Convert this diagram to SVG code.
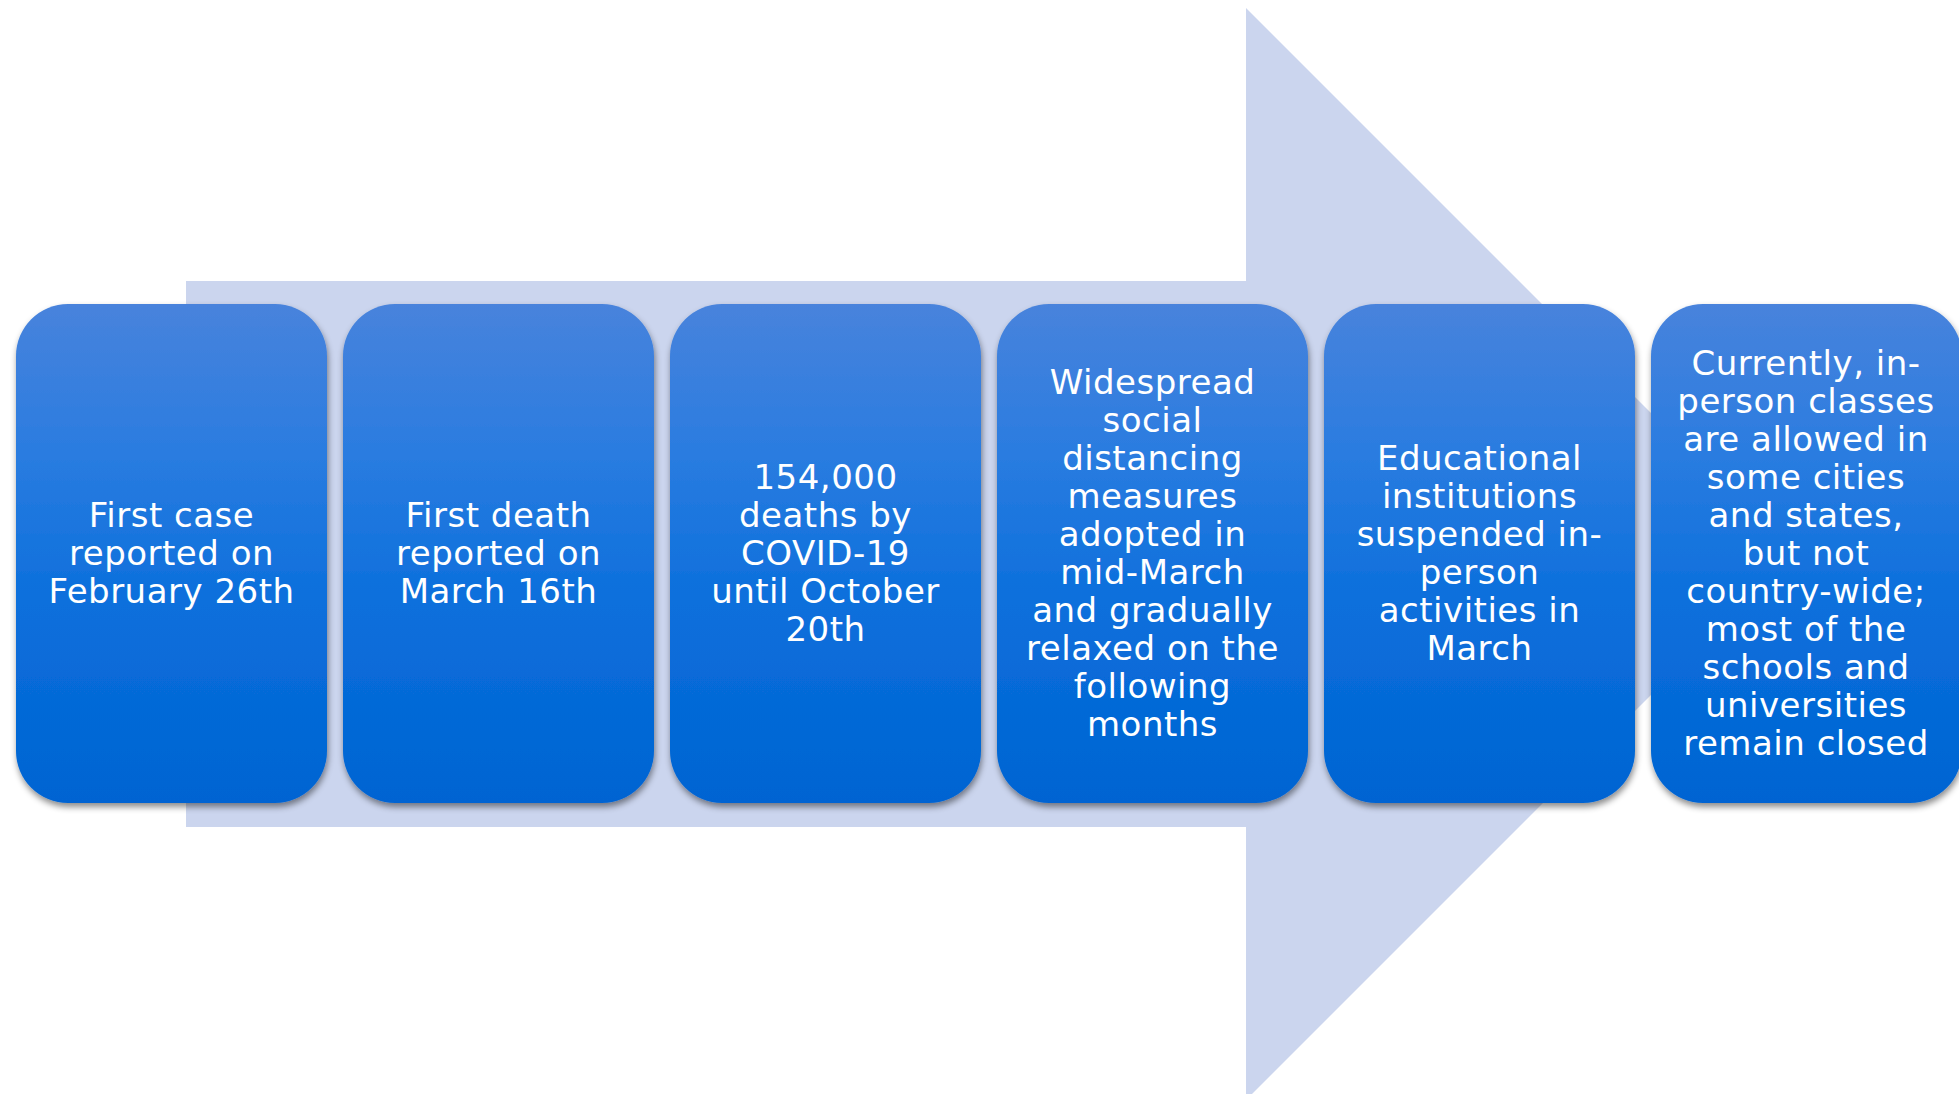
<svg xmlns="http://www.w3.org/2000/svg" width="1959" height="1094" viewBox="0 0 1959 1094">
<defs>
<linearGradient id="g" x1="0" y1="0" x2="0" y2="1">
<stop offset="0" stop-color="#4883DC"/>
<stop offset="0.3" stop-color="#2A7CE0"/>
<stop offset="0.6" stop-color="#0B6FDC"/>
<stop offset="1" stop-color="#0064D2"/>
</linearGradient>
<filter id="sh" x="-10%" y="-10%" width="120%" height="120%">
<feDropShadow dx="1" dy="4" stdDeviation="3" flood-color="#000" flood-opacity="0.45"/>
</filter>
<style>
.box{fill:url(#g);filter:url(#sh)}
.t{font-family:"DejaVu Sans",Verdana,sans-serif;font-size:34px;fill:#fff;text-anchor:middle;letter-spacing:0.5px}
</style>
</defs>
<g id="arrow">
<polygon points="186,281 1246,281 1246,8 1792,554 1246,1100 1246,827 186,827" fill="#CBD5EE"/>
</g>
<g id="connectors"/>
<g id="n1">
<rect class="box" x="16" y="304" width="311" height="499" rx="52"/>
<text class="t"><tspan x="171.5" y="527">First case</tspan><tspan x="171.5" y="565">reported on</tspan><tspan x="171.5" y="603">February 26th</tspan></text>
</g>
<g id="n2">
<rect class="box" x="343" y="304" width="311" height="499" rx="52"/>
<text class="t"><tspan x="498.5" y="527">First death</tspan><tspan x="498.5" y="565">reported on</tspan><tspan x="498.5" y="603">March 16th</tspan></text>
</g>
<g id="n3">
<rect class="box" x="670" y="304" width="311" height="499" rx="52"/>
<text class="t"><tspan x="825.5" y="489">154,000</tspan><tspan x="825.5" y="527">deaths by</tspan><tspan x="825.5" y="565">COVID-19</tspan><tspan x="825.5" y="603">until October</tspan><tspan x="825.5" y="641">20th</tspan></text>
</g>
<g id="n4">
<rect class="box" x="997" y="304" width="311" height="499" rx="52"/>
<text class="t"><tspan x="1152.5" y="394">Widespread</tspan><tspan x="1152.5" y="432">social</tspan><tspan x="1152.5" y="470">distancing</tspan><tspan x="1152.5" y="508">measures</tspan><tspan x="1152.5" y="546">adopted in</tspan><tspan x="1152.5" y="584">mid-March</tspan><tspan x="1152.5" y="622">and gradually</tspan><tspan x="1152.5" y="660">relaxed on the</tspan><tspan x="1152.5" y="698">following</tspan><tspan x="1152.5" y="736">months</tspan></text>
</g>
<g id="n5">
<rect class="box" x="1324" y="304" width="311" height="499" rx="52"/>
<text class="t"><tspan x="1479.5" y="470">Educational</tspan><tspan x="1479.5" y="508">institutions</tspan><tspan x="1479.5" y="546">suspended in-</tspan><tspan x="1479.5" y="584">person</tspan><tspan x="1479.5" y="622">activities in</tspan><tspan x="1479.5" y="660">March</tspan></text>
</g>
<g id="n6">
<rect class="box" x="1651" y="304" width="311" height="499" rx="52"/>
<text class="t"><tspan x="1806" y="375">Currently, in-</tspan><tspan x="1806" y="413">person classes</tspan><tspan x="1806" y="451">are allowed in</tspan><tspan x="1806" y="489">some cities</tspan><tspan x="1806" y="527">and states,</tspan><tspan x="1806" y="565">but not</tspan><tspan x="1806" y="603">country-wide;</tspan><tspan x="1806" y="641">most of the</tspan><tspan x="1806" y="679">schools and</tspan><tspan x="1806" y="717">universities</tspan><tspan x="1806" y="755">remain closed</tspan></text>
</g>
</svg>
